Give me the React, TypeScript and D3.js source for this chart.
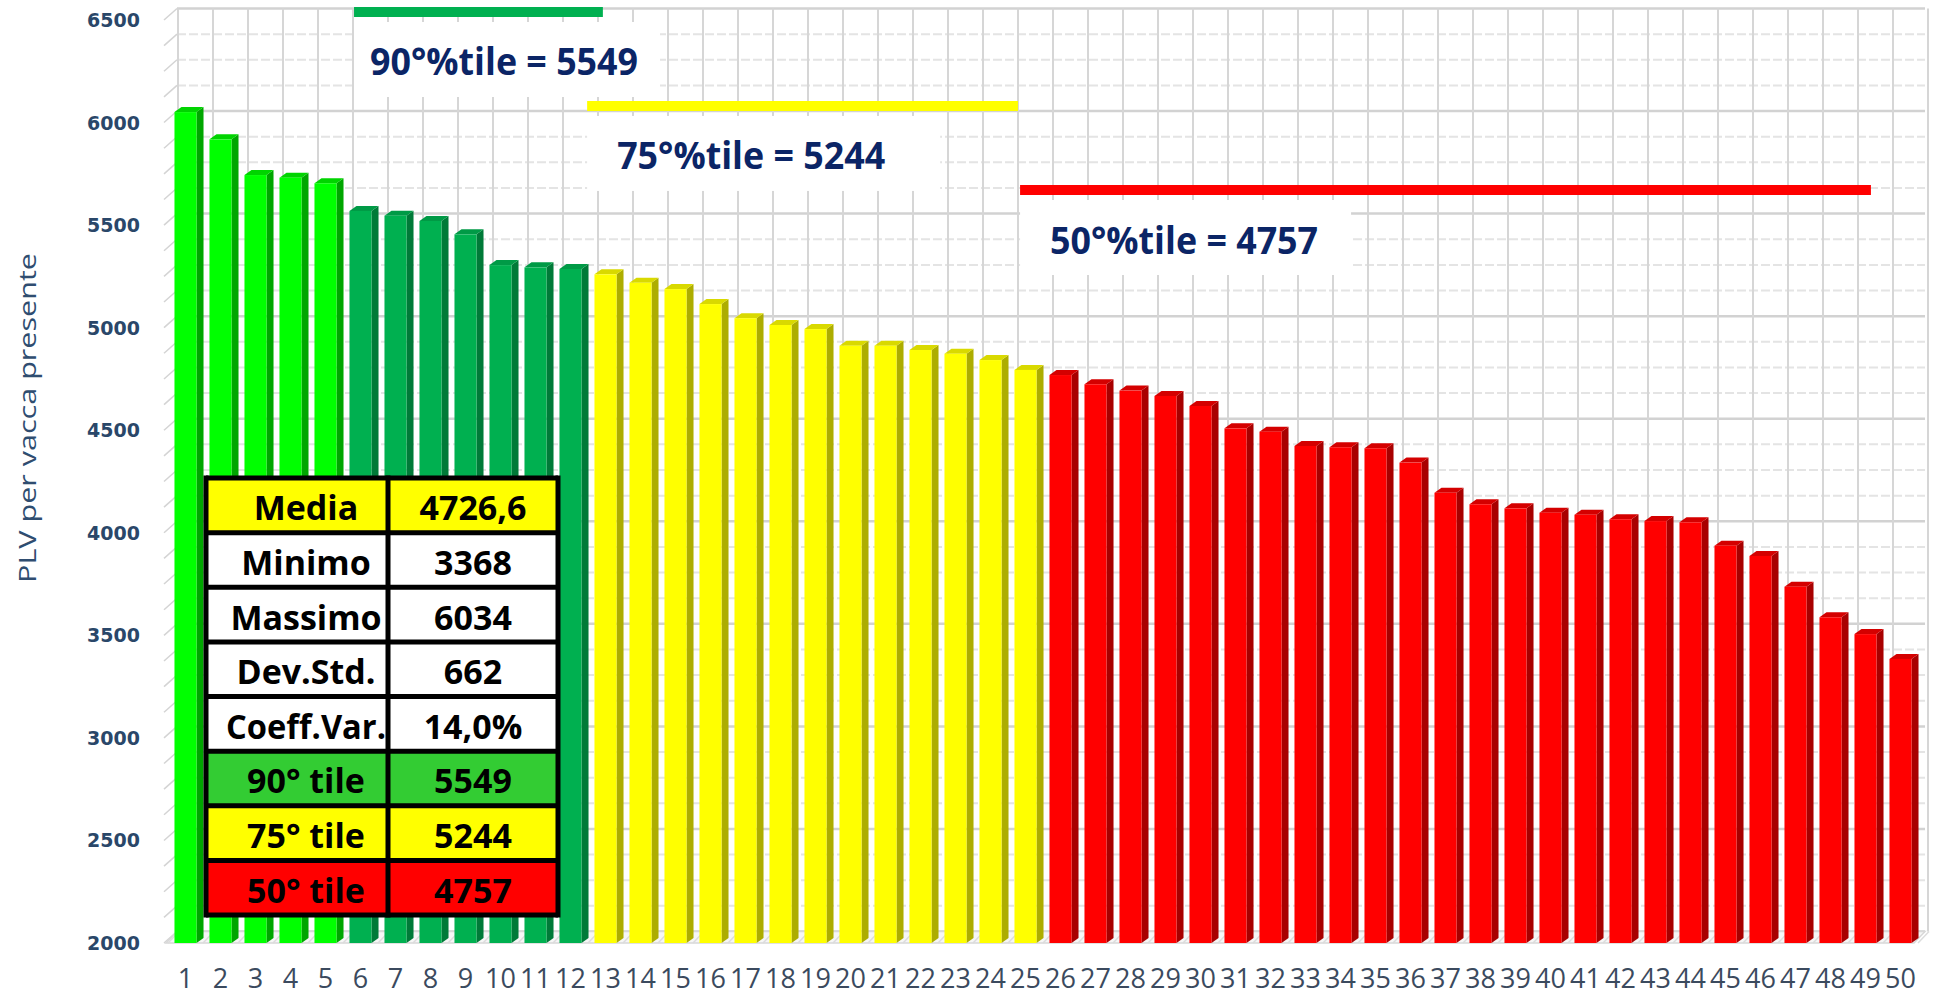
import React from "react";
import * as d3 from "d3";

// PLV per vacca presente, aziende ordinate dalla migliore alla peggiore
const values = [
  6034, 5901, 5727, 5714, 5687, 5552, 5529, 5503, 5438, 5288,
  5277, 5269, 5243, 5202, 5171, 5098, 5029, 4996, 4976, 4895,
  4895, 4874, 4856, 4825, 4777, 4752, 4707, 4676, 4650, 4601,
  4492, 4476, 4406, 4400, 4395, 4325, 4178, 4122, 4102, 4081,
  4071, 4049, 4040, 4034, 3920, 3870, 3720, 3571, 3489, 3368,
];
const categories = values.map((_, i) => String(i + 1));

// last bar (1-based) of each colour band
const bandEnds = [5, 12, 25, 50];
const bandFront = ["#00ff00", "#00b050", "#ffff00", "#ff0000"];
const bandSide = ["#00a600", "#007a38", "#adad00", "#a80000"];
const bandTop = ["#00d400", "#009a46", "#d9d900", "#d40000"];

const yTicks = [2000, 2500, 3000, 3500, 4000, 4500, 5000, 5500, 6000, 6500];
const yMinorTicks = d3.range(2000, 6501, 125);
const yTitle = "PLV per vacca presente";

const statLabels = ["Media", "Minimo", "Massimo", "Dev.Std.", "Coeff.Var.", "90° tile", "75° tile", "50° tile"];
const statValues = ["4726,6", "3368", "6034", "662", "14,0%", "5549", "5244", "4757"];
const statFills = ["#ffff00", "#ffffff", "#ffffff", "#ffffff", "#ffffff", "#33cc33", "#ffff00", "#ff0000"];

const pctLabels = ["90°%tile = 5549", "75°%tile = 5244", "50°%tile = 4757"];
const pctColors = ["#00b050", "#ffff00", "#ff0000"];
// where the percentile markers sit, in category / value units
const pctFrom = [6.13, 12.79, 25.16];
const pctTo = [13.24, 25.1, 49.47];
const pctLevel = [6522, 6064, 5654];
const pctBoxW = [306, 353, 331];
const pctPad = [16, 30, 30];

const W = 1935;
const H = 997;
const depth = { dx: 7, dy: -5 }; // bar extrusion
const wall = { dx: 11, dy: -11.5 }; // back wall offset
const table = { x: 206, y: 478, w: 352, h: 437, split: 388 };

const colorOf = (i: number) => bandEnds.findIndex((e) => i + 1 <= e);

export default function App() {
  const x = d3
    .scaleBand<string>()
    .domain(categories)
    .range([168, 1918])
    .paddingInner(0.37)
    .paddingOuter(0.185);
  const bw = x.bandwidth();
  const step = x.step();
  const y = d3.scaleLinear().domain([2000, 6500]).range([939.5, 16.5]);
  const xc = d3
    .scaleLinear()
    .domain([1, 50])
    .range([x("1") as number, x("50") as number]);

  const labelY = (v: number) => y(v) + 3.5;
  const floorY = labelY(2000);
  const left = 166;
  const right = 1914;

  const boundaries = d3.range(0, categories.length + 1).map((k) => 168 + k * step);
  const rowH = table.h / statLabels.length;

  return (
    <svg
      width={W}
      height={H}
      style={{ position: "absolute", left: 0, top: 0, background: "#fff" }}
    >
      {/* back wall gridlines */}
      <g>
        {yMinorTicks.map((v) => {
          const major = v % 500 === 0;
          return (
            <line
              key={"h" + v}
              x1={left + wall.dx}
              x2={right + wall.dx}
              y1={labelY(v) + wall.dy}
              y2={labelY(v) + wall.dy}
              stroke={major ? "#d2d2d2" : "#e4e4e4"}
              strokeWidth={major ? 2.5 : 2}
              strokeDasharray={major ? undefined : "9 3"}
            />
          );
        })}
        {boundaries.map((bx, k) => (
          <line
            key={"v" + k}
            x1={bx + wall.dx - 1}
            x2={bx + wall.dx - 1}
            y1={labelY(6500) + wall.dy}
            y2={floorY + wall.dy}
            stroke="#d6d6d6"
            strokeWidth={2}
          />
        ))}
        {/* left wall ticks */}
        {yMinorTicks.map((v) => (
          <line
            key={"t" + v}
            x1={left - 2}
            x2={left + wall.dx}
            y1={labelY(v)}
            y2={labelY(v) + wall.dy}
            stroke="#d4d4d4"
            strokeWidth={1.5}
          />
        ))}
      </g>

      {/* floor */}
      <polygon
        points={`${left},${floorY} ${right},${floorY} ${right + wall.dx},${floorY + wall.dy} ${left + wall.dx},${floorY + wall.dy}`}
        fill="#f6f6f6"
        stroke="#d8d8d8"
        strokeWidth={1.5}
      />
      {boundaries.map((bx, k) => (
        <line
          key={"f" + k}
          x1={bx}
          x2={bx + wall.dx}
          y1={floorY}
          y2={floorY + wall.dy}
          stroke="#dcdcdc"
          strokeWidth={1.5}
        />
      ))}

      {/* 3D bars */}
      <g>
        {values.map((v, i) => {
          const c = colorOf(i);
          const x0 = x(categories[i]) as number;
          const x1 = x0 + bw;
          const yt = y(v);
          const yb = floorY;
          return (
            <g key={i}>
              <polygon
                points={`${x1},${yt} ${x1 + depth.dx},${yt + depth.dy} ${x1 + depth.dx},${yb + depth.dy} ${x1},${yb}`}
                fill={bandSide[c]}
              />
              <polygon
                points={`${x0},${yt} ${x0 + depth.dx},${yt + depth.dy} ${x1 + depth.dx},${yt + depth.dy} ${x1},${yt}`}
                fill={bandTop[c]}
              />
              <rect x={x0} y={yt} width={bw} height={yb - yt} fill={bandFront[c]} />
            </g>
          );
        })}
      </g>

      {/* x axis labels */}
      <g fontFamily="'Open Sans', sans-serif" fontSize={27} fill="#3b4a5e" textAnchor="middle">
        {categories.map((c) => (
          <text key={c} x={(x(c) as number) + bw / 2} y={988}>
            {c}
          </text>
        ))}
      </g>

      {/* y axis labels */}
      <g
        fontFamily="'DejaVu Sans', sans-serif"
        fontSize={19}
        fontWeight="bold"
        fill="#2a4769"
        textAnchor="end"
      >
        {yTicks.map((t) => (
          <text key={t} x={140} y={labelY(t)} dominantBaseline="central">
            {t}
          </text>
        ))}
      </g>
      <text
        transform="translate(36,418) rotate(-90)"
        textAnchor="middle"
        fontFamily="'Open Sans', sans-serif"
        fontSize={24}
        fill="#2f4d70"
        textLength={330}
        lengthAdjust="spacingAndGlyphs"
      >
        {yTitle}
      </text>

      {/* percentile markers */}
      <g>
        {pctLabels.map((lab, k) => {
          const lx0 = xc(pctFrom[k]);
          const lx1 = xc(pctTo[k]);
          const ly = y(pctLevel[k]);
          const boxY = ly + 10;
          const boxH = 75;
          return (
            <g key={lab}>
              <rect x={lx0} y={boxY} width={pctBoxW[k]} height={boxH} fill="#ffffff" />
              <line x1={lx0} x2={lx1} y1={ly} y2={ly} stroke={pctColors[k]} strokeWidth={10} />
              <text
                x={lx0 + pctPad[k]}
                y={boxY + boxH / 2 + 1}
                dominantBaseline="central"
                fontFamily="'Open Sans', sans-serif"
                fontWeight="bold"
                fontSize={38}
                fill="#0b2566"
                textLength={268}
                lengthAdjust="spacingAndGlyphs"
              >
                {lab}
              </text>
            </g>
          );
        })}
      </g>

      {/* statistics table */}
      <g fontFamily="'Open Sans', sans-serif" fontWeight="bold" fontSize={34} fill="#000">
        {statLabels.map((lab, r) => {
          const ry = table.y + r * rowH;
          return (
            <g key={lab}>
              <rect x={table.x} y={ry} width={table.split - table.x} height={rowH} fill={statFills[r]} />
              <rect
                x={table.split}
                y={ry}
                width={table.x + table.w - table.split}
                height={rowH}
                fill={statFills[r]}
              />
              <text
                x={306}
                y={ry + rowH / 2 + 2}
                textAnchor="middle"
                dominantBaseline="central"
                textLength={lab.length > 8 ? 160 : undefined}
                lengthAdjust="spacingAndGlyphs"
              >
                {lab}
              </text>
              <text x={473} y={ry + rowH / 2 + 2} textAnchor="middle" dominantBaseline="central">
                {statValues[r]}
              </text>
            </g>
          );
        })}
        {d3.range(0, statLabels.length + 1).map((r) => (
          <line
            key={"r" + r}
            x1={table.x}
            x2={table.x + table.w}
            y1={table.y + r * rowH}
            y2={table.y + r * rowH}
            stroke="#000"
            strokeWidth={5}
          />
        ))}
        {[table.x, table.split, table.x + table.w].map((cx) => (
          <line
            key={"c" + cx}
            x1={cx}
            x2={cx}
            y1={table.y - 2.5}
            y2={table.y + table.h + 2.5}
            stroke="#000"
            strokeWidth={5}
          />
        ))}
      </g>
    </svg>
  );
}
